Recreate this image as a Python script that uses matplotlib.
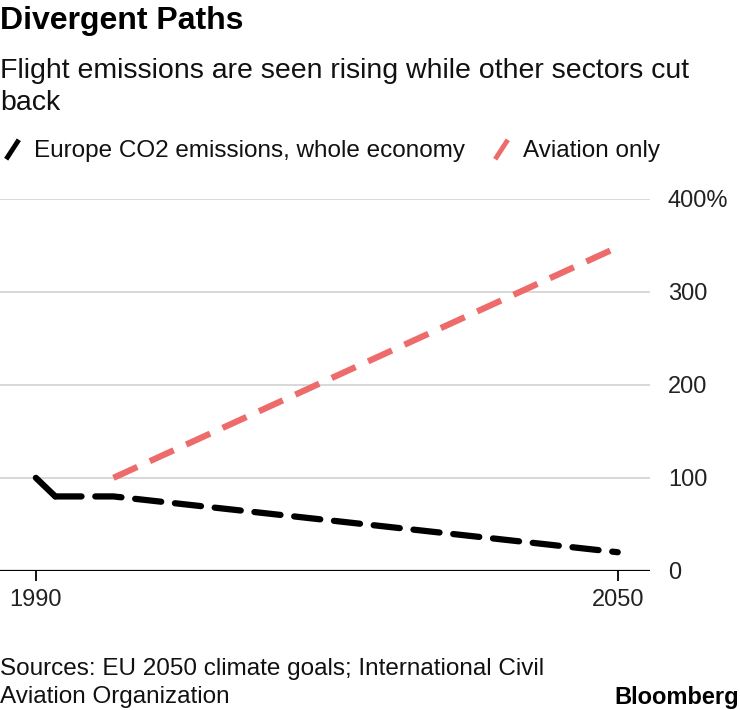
import matplotlib
matplotlib.use("Agg")
import matplotlib.pyplot as plt
from matplotlib.lines import Line2D

plt.rcParams['font.family'] = ['Liberation Sans', 'DejaVu Sans']

# data
economy_solid_years = [1990, 1992]
economy_solid_vals = [100, 80]
economy_dash_years = [1992, 1998, 2050]
economy_dash_vals = [80, 80, 20]
aviation_years = [1998, 2050]
aviation_vals = [100, 348]
y_ticks = [0, 100, 200, 300, 400]
y_labels = ['0', '100', '200', '300', '400%']
x_ticks = [1990, 2050]

black = '#000000'
red = '#ee6b6b'

fig = plt.figure(figsize=(7.4, 7.1), dpi=100)
ax = fig.add_axes([0.0, 0.196, 0.878, 0.524])

for y in y_ticks[1:]:
    ax.axhline(y, color='#d6d6d6', lw=1.3, zorder=0)
ax.axhline(0, color='black', lw=1.6, zorder=1)

ax.plot(economy_solid_years, economy_solid_vals, color=black, lw=4.5,
        solid_capstyle='round', solid_joinstyle='round')
ax.plot(economy_dash_years, economy_dash_vals, color=black, lw=4.5,
        dashes=(4.2, 2.2), dash_capstyle='round')
ax.plot(aviation_years, aviation_vals, color=red, lw=4.5,
        dashes=(4.2, 2.2), dash_capstyle='butt')

ax.set_xlim(1986.3, 2053.3)
ax.set_ylim(0, 400)
for s in ax.spines.values():
    s.set_visible(False)

ax.set_xticks(x_ticks)
ax.set_xticklabels([str(x) for x in x_ticks])
ax.tick_params(axis='x', length=7, width=1.3, color='black', pad=6,
               labelsize=17, labelcolor='#222222')
ax.yaxis.tick_right()
ax.set_yticks(y_ticks)
ax.set_yticklabels(y_labels)
ax.tick_params(axis='y', length=0, pad=13, labelsize=17, labelcolor='#222222')
for lab in ax.get_yticklabels():
    lab.set_horizontalalignment('left')

fig.text(0.0, 0.971, 'Divergent Paths', fontsize=23, fontweight='bold',
         va='center', ha='left')
fig.text(0.0, 0.878, 'Flight emissions are seen rising while other sectors cut\nback',
         fontsize=20.5, va='center', ha='left', linespacing=1.31, color='#111111')

# steep slash used as legend key
slash = [(-0.65, -1), (0.65, 1)]
handles = [
    Line2D([], [], color=black, marker=slash, markersize=14, mew=3.5, ls='none'),
    Line2D([], [], color=red, marker=slash, markersize=14, mew=3.5, ls='none'),
]
fig.legend(handles, ['Europe CO2 emissions, whole economy', 'Aviation only'],
           loc='center left', bbox_to_anchor=(-0.028, 0.787), ncol=2, frameon=False,
           fontsize=17.5, handlelength=0.9, handletextpad=0.45, columnspacing=1.05,
           labelcolor='#111111')

fig.text(0.0, 0.038, 'Sources: EU 2050 climate goals; International Civil\nAviation Organization',
         fontsize=17.5, va='center', ha='left', linespacing=1.33, color='#111111')
fig.text(0.999, 0.018, 'Bloomberg', fontsize=17, fontweight='bold',
         va='center', ha='right')

fig.savefig('out.png', dpi=100)
